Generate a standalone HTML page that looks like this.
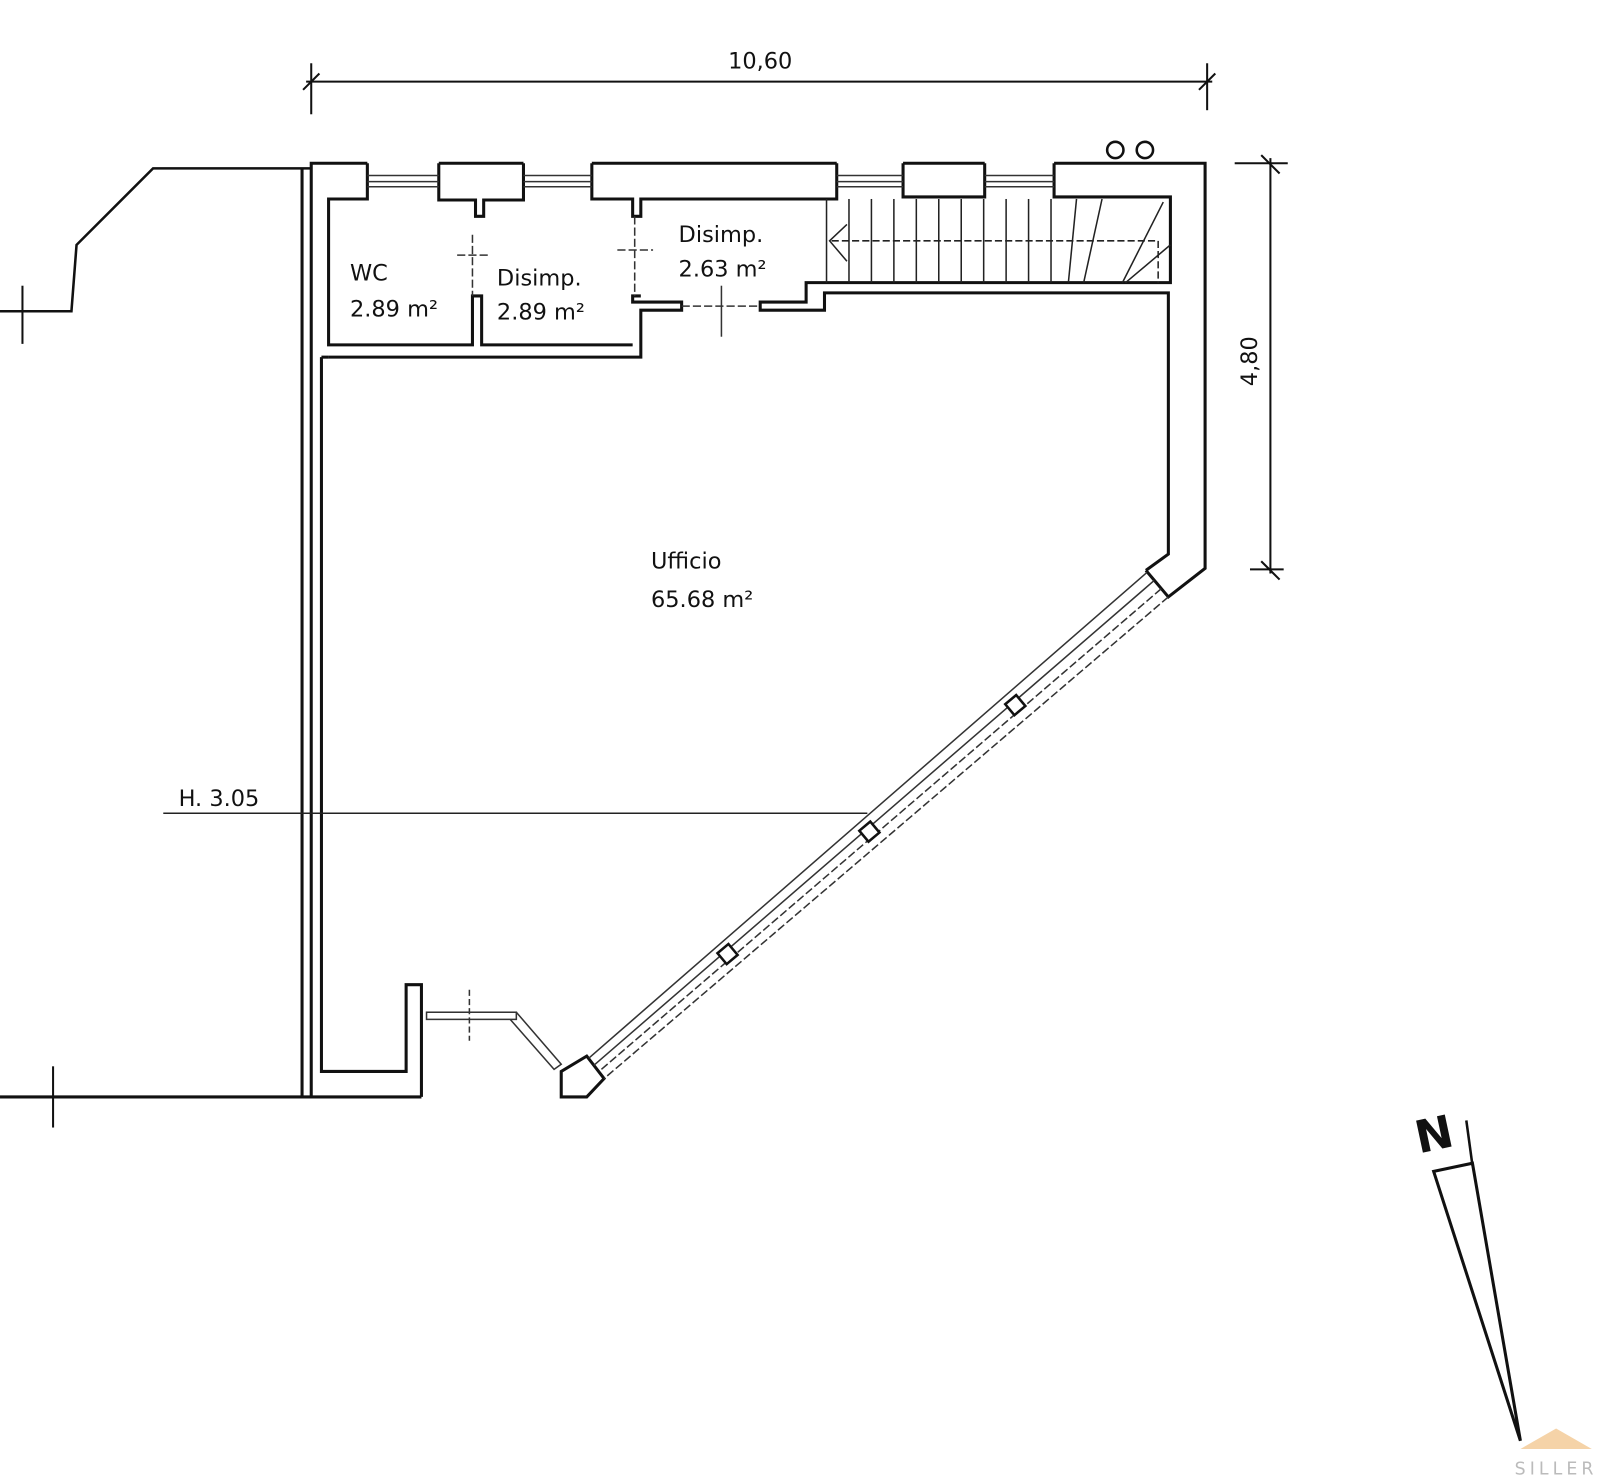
<!DOCTYPE html>
<html><head><meta charset="utf-8"><style>html,body{margin:0;padding:0;background:#fff}svg{display:block}</style></head>
<body>
<svg width="1600" height="1481" viewBox="0 0 1568 1451.4" xmlns="http://www.w3.org/2000/svg" font-family="'DejaVu Sans','Liberation Sans',sans-serif">
<g fill="none" stroke="#111" stroke-width="3" stroke-linejoin="miter">
<line x1="300" y1="80" x2="1188" y2="80" stroke-width="2"/>
<line x1="305" y1="62" x2="305" y2="112" stroke-width="2"/><line x1="297" y1="88" x2="313" y2="72" stroke-width="2"/>
<line x1="1183" y1="62" x2="1183" y2="108" stroke-width="2"/><line x1="1175" y1="88" x2="1191" y2="72" stroke-width="2"/>
<line x1="1245" y1="155" x2="1245" y2="562" stroke-width="2"/>
<line x1="1210" y1="160" x2="1262" y2="160" stroke-width="2"/><line x1="1236" y1="152" x2="1254" y2="170" stroke-width="2"/>
<line x1="1225" y1="558" x2="1258" y2="558" stroke-width="2"/><line x1="1236" y1="550" x2="1254" y2="568" stroke-width="2"/>
<polyline points="305,165 150,165 75,240 70,305 0,305" stroke-width="2.5"/>
<line x1="22" y1="280" x2="22" y2="337" stroke-width="2"/>
<line x1="0" y1="1075" x2="413" y2="1075"/>
<line x1="52" y1="1045" x2="52" y2="1105" stroke-width="2"/>
<line x1="296" y1="165" x2="296" y2="1075"/>
<polyline points="305,1075 305,160 360,160"/>
<polyline points="430,160 513,160"/><polyline points="580,160 820,160"/><polyline points="885,160 965,160"/>
<polyline points="1033,160 1181,160 1181,557 1145,585 1123,559"/>
<polyline points="360,160 360,195 322,195 322,338 463,338 463,290 472,290 472,338 620,338"/>
<polyline points="430,160 430,196 466,196 466,212 474,212 474,196 513,196 513,160"/>
<polyline points="580,160 580,195 620,195 620,212 628,212 628,195 820,195 820,160"/>
<polyline points="885,160 885,193 965,193 965,160"/>
<polyline points="1033,160 1033,193 1147,193 1147,277 790,277 790,296 745,296 745,304 808,304 808,287 1145,287 1145,543 1123,559"/>
<polyline points="322,350 628,350 628,304 668,304 668,296 620,296 620,290 628,290"/>
<polyline points="315,350 315,1050 398,1050 398,965 413,965 413,1075"/>
<line x1="322" y1="350" x2="315" y2="350"/>
<polygon points="550,1050 575,1035 592,1057 575,1075 550,1075"/>
</g>
<g stroke="#333" stroke-width="1.5">
<line x1="360" y1="172" x2="430" y2="172"/><line x1="360" y1="178" x2="430" y2="178"/><line x1="360" y1="183" x2="430" y2="183"/>
<line x1="513" y1="172" x2="580" y2="172"/><line x1="513" y1="178" x2="580" y2="178"/><line x1="513" y1="183" x2="580" y2="183"/>
<line x1="820" y1="172" x2="885" y2="172"/><line x1="820" y1="178" x2="885" y2="178"/><line x1="820" y1="183" x2="885" y2="183"/>
<line x1="965" y1="172" x2="1033" y2="172"/><line x1="965" y1="178" x2="1033" y2="178"/><line x1="965" y1="183" x2="1033" y2="183"/>
<line x1="1124" y1="561" x2="577" y2="1037"/><line x1="1131" y1="569" x2="582" y2="1044"/><line x1="1138" y1="577" x2="587" y2="1050" stroke-dasharray="8,3"/><line x1="1145" y1="585" x2="592" y2="1057" stroke-dasharray="8,3"/>
<rect x="418" y="992" width="88" height="7" fill="none"/>
<polyline points="506,992 550,1043 543,1048 500,999" fill="none"/>
<line x1="463" y1="230" x2="463" y2="290" stroke-dasharray="8,3"/><line x1="448" y1="250" x2="480" y2="250" stroke-dasharray="8,3"/>
<line x1="622" y1="212" x2="622" y2="290" stroke-dasharray="8,3"/><line x1="605" y1="245" x2="640" y2="245" stroke-dasharray="8,3"/>
<line x1="668" y1="300" x2="745" y2="300" stroke-dasharray="8,3"/><line x1="707" y1="280" x2="707" y2="330"/>
<line x1="460" y1="970" x2="460" y2="1020" stroke-dasharray="6,3"/>
</g>
<g fill="#fff" stroke="#111" stroke-width="2.5">
<rect x="-7" y="-7" width="14" height="14" transform="translate(995,691) rotate(-40)"/>
<rect x="-7" y="-7" width="14" height="14" transform="translate(852,815) rotate(-40)"/>
<rect x="-7" y="-7" width="14" height="14" transform="translate(713,935) rotate(-40)"/>
<circle cx="1093" cy="147" r="8"/><circle cx="1122" cy="147" r="8"/>
</g>
<g stroke="#222" stroke-width="1.5" fill="none">
<line x1="810" y1="195" x2="810" y2="277"/><line x1="832" y1="195" x2="832" y2="277"/><line x1="854" y1="195" x2="854" y2="277"/><line x1="876" y1="195" x2="876" y2="277"/><line x1="898" y1="195" x2="898" y2="277"/><line x1="920" y1="195" x2="920" y2="277"/><line x1="942" y1="195" x2="942" y2="277"/><line x1="964" y1="195" x2="964" y2="277"/><line x1="986" y1="195" x2="986" y2="277"/><line x1="1008" y1="195" x2="1008" y2="277"/><line x1="1030" y1="195" x2="1030" y2="277"/>
<line x1="1055" y1="195" x2="1047" y2="277"/><line x1="1080" y1="195" x2="1062" y2="277"/><line x1="1140" y1="198" x2="1100" y2="277"/><line x1="1147" y1="240" x2="1103" y2="277"/>
<polyline points="815,236 1135,236 1135,277" stroke-dasharray="7,3"/>
<polyline points="830,220 813,236 830,256"/>
</g>
<line x1="160" y1="797" x2="850" y2="797" stroke="#222" stroke-width="1.5"/>
<polygon points="1405,1148 1443,1140 1490,1412" fill="none" stroke="#111" stroke-width="3"/>
<line x1="1437" y1="1098" x2="1443" y2="1142" stroke="#111" stroke-width="2.5"/>
<text x="1405" y="1127" font-size="44" font-weight="bold" transform="rotate(-12 1405 1110)" text-anchor="middle" fill="#111">N</text>
<g fill="#111" font-size="22">
<text x="745" y="67" text-anchor="middle">10,60</text>
<text x="1240" y="362" text-anchor="middle" transform="rotate(-90 1232 362)">4,80</text>
<text x="175" y="790">H. 3.05</text>
<text x="343" y="275">WC</text><text x="343" y="310">2.89 m²</text>
<text x="487" y="280">Disimp.</text><text x="487" y="313">2.89 m²</text>
<text x="665" y="237">Disimp.</text><text x="665" y="271">2.63 m²</text>
<text x="638" y="557">Ufficio</text><text x="638" y="595">65.68 m²</text>
</g>
<text x="1525" y="1445" font-size="17" fill="#bbb" text-anchor="middle" letter-spacing="4">SILLER</text>
<polygon points="1490,1420 1525,1400 1560,1420" fill="#f5d3a8"/>
</svg>
</body></html>
